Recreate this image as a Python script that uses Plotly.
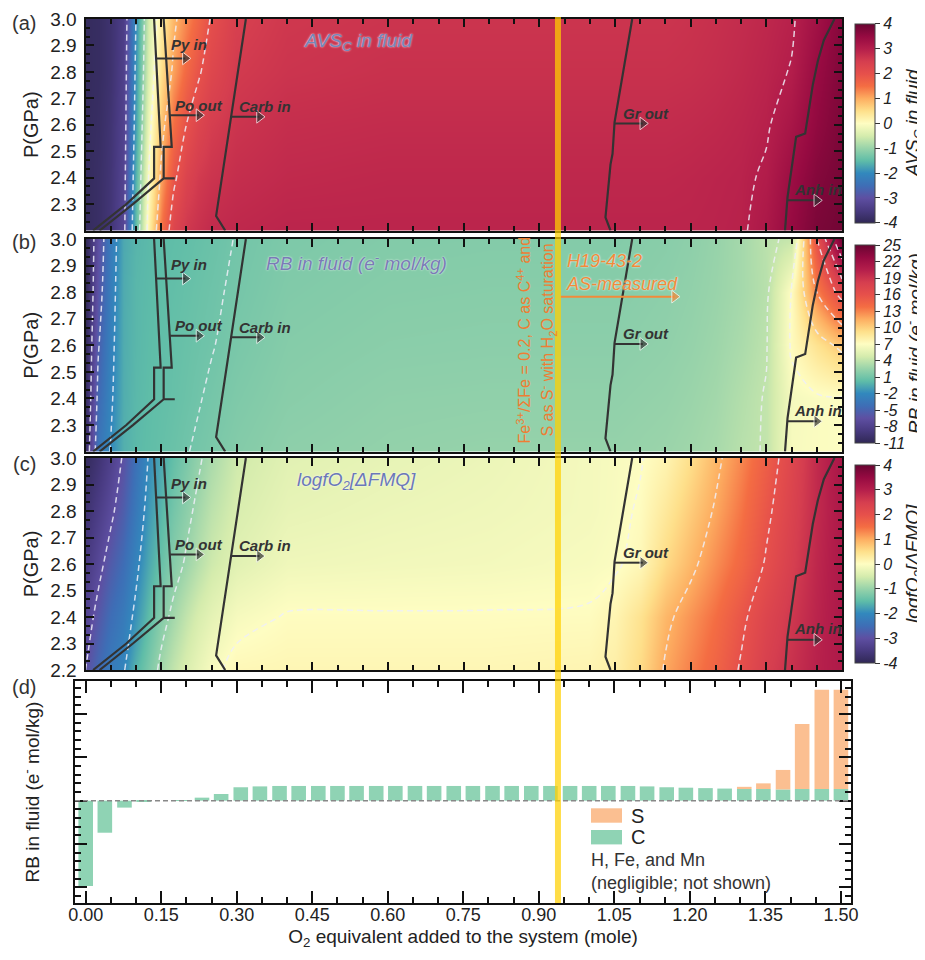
import plotly.graph_objects as go

FONT = "Liberation Sans"

# ---------------- grid of the three maps ----------------
X_NODES = [0.0, 0.025, 0.05, 0.075, 0.1, 0.125, 0.15, 0.175, 0.2, 0.225, 0.25, 0.3,
           0.4, 0.6, 0.8, 1.0, 1.05, 1.1, 1.15, 1.2, 1.25, 1.3, 1.35, 1.4, 1.45, 1.5]
P_NODES = [2.2, 2.4, 2.6, 2.8, 3.0]

AVS_C = [
    [-3.9, -3.8, -3.6, -3.2, -1.5, 0.2, 1.5, 2.3, 2.6, 2.7, 2.8, 2.85, 2.9, 2.9, 2.9, 2.9, 2.9, 2.9, 2.9, 2.9, 2.92, 2.95, 3.15, 3.5, 3.8, 3.9],
    [-3.9, -3.8, -3.62, -3.25, -1.65, 0.0, 1.1, 1.9, 2.35, 2.55, 2.65, 2.75, 2.82, 2.85, 2.85, 2.85, 2.85, 2.85, 2.85, 2.87, 2.9, 2.93, 3.05, 3.4, 3.7, 3.85],
    [-3.9, -3.83, -3.65, -3.3, -1.8, -0.2, 0.8, 1.5, 2.0, 2.3, 2.5, 2.65, 2.75, 2.78, 2.78, 2.78, 2.78, 2.78, 2.78, 2.8, 2.83, 2.88, 2.96, 3.2, 3.55, 3.8],
    [-3.9, -3.85, -3.7, -3.35, -1.9, -0.4, 0.5, 1.1, 1.6, 1.95, 2.25, 2.55, 2.65, 2.7, 2.7, 2.7, 2.7, 2.7, 2.7, 2.72, 2.76, 2.82, 2.9, 3.02, 3.45, 3.75],
    [-3.9, -3.85, -3.7, -3.4, -2.0, -0.5, 0.3, 0.9, 1.3, 1.65, 2.05, 2.45, 2.6, 2.65, 2.65, 2.65, 2.65, 2.65, 2.65, 2.68, 2.72, 2.78, 2.85, 2.95, 3.3, 3.7],
]
RB_FLUID = [
    [-10.0, -3.5, -1.9, -0.3, 0.1, 0.3, 0.5, 0.7, 0.95, 1.15, 1.35, 1.7, 2.1, 2.3, 2.4, 2.4, 2.4, 2.5, 2.6, 2.8, 3.1, 3.7, 4.1, 6.6, 6.8, 6.9],
    [-10.5, -4.5, -2.3, -0.4, 0.05, 0.25, 0.4, 0.55, 0.75, 0.95, 1.15, 1.5, 1.9, 2.15, 2.2, 2.2, 2.2, 2.3, 2.4, 2.6, 2.9, 3.5, 4.1, 6.5, 6.8, 6.9],
    [-10.8, -5.2, -2.6, -0.45, 0.0, 0.2, 0.35, 0.5, 0.65, 0.8, 0.95, 1.3, 1.75, 1.95, 2.0, 2.0, 2.0, 2.1, 2.2, 2.4, 2.7, 3.2, 3.9, 7.2, 9.0, 10.5],
    [-11.0, -6.0, -2.9, -0.5, 0.0, 0.15, 0.3, 0.4, 0.55, 0.7, 0.85, 1.15, 1.6, 1.8, 1.85, 1.85, 1.85, 1.95, 2.05, 2.25, 2.55, 3.0, 3.7, 7.1, 13.0, 17.0],
    [-11.0, -6.5, -3.2, -0.6, -0.1, 0.1, 0.2, 0.3, 0.4, 0.55, 0.7, 1.05, 1.45, 1.65, 1.7, 1.7, 1.7, 1.8, 1.9, 2.1, 2.45, 3.0, 3.8, 4.2, 16.0, 25.0],
]
LOGFO2 = [
    [-3.0, -2.55, -2.25, -2.05, -1.6, -1.25, -0.9, -0.65, -0.42, -0.25, -0.08, 0.1, 0.12, 0.12, 0.12, 0.15, 0.25, 0.55, 1.05, 1.35, 1.65, 2.05, 2.45, 2.7, 2.95, 3.1],
    [-3.25, -2.85, -2.5, -2.25, -1.9, -1.5, -1.15, -0.9, -0.65, -0.45, -0.3, -0.1, 0.02, 0.02, 0.02, 0.03, 0.15, 0.45, 0.9, 1.2, 1.5, 1.9, 2.3, 2.6, 2.9, 3.15],
    [-3.5, -3.15, -2.8, -2.5, -2.1, -1.7, -1.4, -1.15, -0.95, -0.75, -0.55, -0.35, -0.18, -0.15, -0.13, -0.08, -0.04, 0.1, 0.55, 0.9, 1.25, 1.6, 2.05, 2.45, 2.85, 3.15],
    [-3.7, -3.4, -3.1, -2.75, -2.3, -1.85, -1.55, -1.3, -1.1, -0.9, -0.7, -0.45, -0.28, -0.22, -0.18, -0.12, -0.07, 0.03, 0.35, 0.7, 1.05, 1.45, 1.9, 2.35, 2.8, 3.15],
    [-3.9, -3.65, -3.35, -2.95, -2.45, -1.98, -1.7, -1.45, -1.25, -1.05, -0.85, -0.55, -0.35, -0.28, -0.22, -0.12, -0.08, -0.02, 0.15, 0.5, 0.9, 1.3, 1.75, 2.25, 2.8, 3.2],
]

# ---------------- phase boundaries (same in the three maps) ----------------
PY_IN_X = [0.136, 0.149, 0.136, 0.136, 0.081, 0.015]
PY_IN_P = [3.0, 2.516, 2.516, 2.397, 2.3, 2.2]
PO_OUT_X = [0.155, 0.171, 0.155, 0.155, 0.177, 0.155, 0.094, 0.028]
PO_OUT_P = [3.0, 2.516, 2.516, 2.397, 2.397, 2.397, 2.3, 2.2]
CARB_IN_X = [0.318, 0.263, 0.259, 0.277]
CARB_IN_P = [3.0, 2.29, 2.255, 2.2]
GR_OUT_X = [1.084, 1.049, 1.045, 1.041, 1.031, 1.041]
GR_OUT_P = [3.0, 2.609, 2.49, 2.45, 2.25, 2.2]
ANH_IN_X = [1.485, 1.464, 1.452, 1.442, 1.427, 1.409, 1.392, 1.387]
ANH_IN_P = [3.0, 2.92, 2.84, 2.75, 2.567, 2.554, 2.326, 2.2]

BOUNDARY_LABELS = ["Py in", "Po out", "Carb in", "Gr out", "Anh in"]
ARROW_X0 = [0.141, 0.168, 0.288, 1.048, 1.392]
ARROW_X1 = [0.198, 0.225, 0.345, 1.105, 1.450]
ARROW_P = [2.851, 2.636, 2.630, 2.605, 2.314]
LABEL_X = [0.166, 0.174, 0.301, 1.062, 1.400]
LABEL_P = [2.905, 2.674, 2.668, 2.643, 2.355]

MEASURED_X = 0.938          # H19-43-2 as-measured sample
SAMPLE_ARROW_X = [0.942, 1.168]
SAMPLE_ARROW_P = [2.783, 2.783]

# ---------------- panel d bars ----------------
BAR_X = [0.000, 0.038, 0.077, 0.115, 0.154, 0.192, 0.231, 0.269, 0.308, 0.346,
         0.385, 0.423, 0.462, 0.500, 0.538, 0.577, 0.615, 0.654, 0.692, 0.731,
         0.769, 0.808, 0.846, 0.885, 0.923, 0.962, 1.000, 1.038, 1.077, 1.115,
         1.154, 1.192, 1.231, 1.269, 1.308, 1.346, 1.385, 1.423, 1.462, 1.500]
RB_C = [-1.97, -0.74, -0.16, -0.02, 0.0, 0.01, 0.07, 0.155, 0.31, 0.33,
        0.34, 0.34, 0.34, 0.34, 0.34, 0.34, 0.34, 0.34, 0.34, 0.34,
        0.34, 0.34, 0.34, 0.34, 0.34, 0.34, 0.34, 0.34, 0.34, 0.33,
        0.31, 0.30, 0.29, 0.28, 0.27, 0.27, 0.26, 0.27, 0.27, 0.27]
RB_S = [0, 0, 0, 0, 0, 0, 0, 0, 0, 0,
        0, 0, 0, 0, 0, 0, 0, 0, 0, 0,
        0, 0, 0, 0, 0, 0, 0, 0, 0, 0,
        0, 0, 0, 0, 0.05, 0.13, 0.45, 1.50, 2.29, 2.29]

X_TICKS = [0.0, 0.15, 0.3, 0.45, 0.6, 0.75, 0.9, 1.05, 1.2, 1.35, 1.5]
P_TICKS_AB = [2.3, 2.4, 2.5, 2.6, 2.7, 2.8, 2.9, 3.0]
P_TICKS_C = [2.2, 2.3, 2.4, 2.5, 2.6, 2.7, 2.8, 2.9, 3.0]
CB_A_VALS = [-4, -3, -2, -1, 0, 1, 2, 3, 4]
CB_A_TEXT = ["-4", "-3", "-2", "-1", "0", "1", "2", "3", "4"]
CB_B_VALS = [-11, -8, -5, -2, 1, 4, 7, 10, 13, 16, 19, 22, 25]
CB_B_TEXT = ["-11", "-8", "-5", "-2", "1", "4", "7", "10", "13", "16", "19", "22", "25"]

COLORSCALE = [
    [0.0, "#302855"], [0.0625, "#483a80"], [0.125, "#5e4fa2"], [0.1875, "#3e6eb6"],
    [0.25, "#3288bd"], [0.3125, "#5fbda8"], [0.375, "#98d3aa"], [0.4375, "#d5ecad"],
    [0.5, "#fefdc2"], [0.5625, "#fee08b"], [0.625, "#fdae61"], [0.6875, "#f46d43"],
    [0.75, "#e6504b"], [0.8125, "#d53e4f"], [0.875, "#b41e4b"], [0.9375, "#960a41"],
    [1.0, "#690532"],
]

# page offset of the figure inside the html body (default 8px body margin)
OFF = 8
FIG_W, FIG_H = 925 - OFF, 960 - OFF


def px(X):
    return (X - OFF) / FIG_W


def py(Y):
    return 1 - (Y - OFF) / FIG_H


fig = go.Figure()

panels = [
    dict(z=AVS_C, zmin=-4, zmax=4, lv=(-3, 3, 1), vals=CB_A_VALS, txt=CB_A_TEXT,
         title="<i>AVS<sub>C</sub> in fluid</i>", cb=(24, 222.7),
         ptitle="<i>AVS<sub>C</sub> in fluid</i>", ptx=0.43, pcol="#7287bb"),
    dict(z=RB_FLUID, zmin=-11, zmax=25, lv=(-8, 22, 3), vals=CB_B_VALS, txt=CB_B_TEXT,
         title="<i>RB in fluid (e<sup>-</sup> mol/kg)</i>", cb=(245, 443),
         ptitle="<i>RB in fluid (e<sup>-</sup> mol/kg)</i>", ptx=0.353, pcol="#7a7bb6"),
    dict(z=LOGFO2, zmin=-4, zmax=4, lv=(-3, 2, 1), vals=CB_A_VALS, txt=CB_A_TEXT,
         title="<i>logfO<sub>2</sub>[ΔFMQ]</i>", cb=(465, 663),
         ptitle="<i>logfO<sub>2</sub>[ΔFMQ]</i>", ptx=0.416, pcol="#6b78b8"),
]
boundaries = [(PY_IN_X, PY_IN_P), (PO_OUT_X, PO_OUT_P), (CARB_IN_X, CARB_IN_P),
              (GR_OUT_X, GR_OUT_P), (ANH_IN_X, ANH_IN_P)]

for k, sp in enumerate(panels, start=1):
    xa = "x" if k == 1 else f"x{k}"
    ya = "y" if k == 1 else f"y{k}"
    cb_top, cb_bot = sp["cb"]
    fig.add_trace(go.Heatmap(
        x=X_NODES, y=P_NODES, z=sp["z"], zmin=sp["zmin"], zmax=sp["zmax"],
        colorscale=COLORSCALE, zsmooth="best", xaxis=xa, yaxis=ya, hoverinfo="skip",
        colorbar=dict(x=px(855), xanchor="left", xpad=0, ypad=0, thickness=20,
                      len=(cb_bot - cb_top) / FIG_H, y=py((cb_top + cb_bot) / 2),
                      yanchor="middle", outlinewidth=1,
                      outlinecolor="#444", tickvals=sp["vals"], ticktext=sp["txt"],
                      ticks="outside", ticklen=5, tickcolor="#333",
                      tickfont=dict(family=FONT, size=16, color="#222", style="italic"))))
    fig.add_trace(go.Contour(
        x=X_NODES, y=P_NODES, z=sp["z"], showscale=False, xaxis=xa, yaxis=ya,
        hoverinfo="skip",
        contours=dict(coloring="none", start=sp["lv"][0], end=sp["lv"][1], size=sp["lv"][2]),
        line=dict(color="rgba(238,238,248,0.85)", width=1.5, dash="6px,4px")))
    for bx, bp in boundaries:
        fig.add_trace(go.Scatter(x=bx, y=bp, mode="lines", xaxis=xa, yaxis=ya,
                                 line=dict(color="#333333", width=2.2),
                                 showlegend=False, hoverinfo="skip"))
    for lab, x0, x1, p, lx, lp in zip(BOUNDARY_LABELS, ARROW_X0, ARROW_X1, ARROW_P, LABEL_X, LABEL_P):
        fig.add_trace(go.Scatter(x=[x0, x1], y=[p, p], mode="lines+markers", xaxis=xa, yaxis=ya,
                                 line=dict(color="#333333", width=2),
                                 marker=dict(symbol="triangle-right", size=[0, 11], color="#333333"),
                                 showlegend=False, hoverinfo="skip"))
        fig.add_annotation(x=lx, y=lp, xref=xa, yref=ya, text=f"<b><i>{lab}</i></b>",
                           showarrow=False, xanchor="left", yanchor="middle",
                           font=dict(family=FONT, size=15, color="#333333"))
    fig.add_annotation(x=sp["ptx"], y=2.913, xref=xa, yref=ya, text=sp["ptitle"],
                       showarrow=False, xanchor="left", yanchor="middle",
                       font=dict(family=FONT, size=19, color=sp["pcol"],
                                 shadow="0 0 2px #ffffff"))
    # colour-bar title
    fig.add_annotation(x=px(914), y=py((cb_top + cb_bot) / 2), xref="paper", yref="paper",
                       text=sp["title"], textangle=-90, showarrow=False,
                       xanchor="center", yanchor="middle",
                       font=dict(family=FONT, size=19, color="#222"))

# ---------------- panel d ----------------
C_COLOR = "#8fd3b4"
S_COLOR = "#fbbf91"
fig.add_trace(go.Bar(x=BAR_X, y=RB_C, name="C", marker=dict(color=C_COLOR, line=dict(width=0)),
                     width=0.029, xaxis="x4", yaxis="y4", hoverinfo="skip"))
fig.add_trace(go.Bar(x=BAR_X, y=RB_S, name="S", marker=dict(color=S_COLOR, line=dict(width=0)),
                     width=0.029, xaxis="x4", yaxis="y4", hoverinfo="skip"))
for tr in fig.data:
    tr.showlegend = False

fig.add_shape(type="line", xref="x4 domain", yref="y4", x0=0, x1=1, y0=0, y1=0,
              line=dict(color="#888888", width=1.5, dash="5px,3px"), layer="above")

# legend key of panel d
for col, lab, ytop in [(S_COLOR, "S", 808.3), (C_COLOR, "C", 830.0)]:
    fig.add_shape(type="rect", xref="paper", yref="paper", x0=px(591), x1=px(622),
                  y0=py(ytop + 14.4), y1=py(ytop),
                  fillcolor=col, line=dict(width=0), layer="above")
    fig.add_annotation(x=px(629), y=py(ytop + 7.2), xref="paper", yref="paper",
                       text=lab, showarrow=False, xanchor="left", yanchor="middle",
                       font=dict(family=FONT, size=20, color="#222"))
fig.add_annotation(x=px(589), y=py(871), xref="paper", yref="paper",
                   text="H, Fe, and Mn<br>(negligible; not shown)", align="left",
                   showarrow=False, xanchor="left", yanchor="middle",
                   font=dict(family=FONT, size=18, color="#333333"))

# measured composition line through all panels
fig.add_shape(type="line", xref="x4", yref="paper", x0=MEASURED_X, x1=MEASURED_X,
              y0=py(903), y1=py(17),
              line=dict(color="rgba(255,208,0,0.72)", width=6), layer="above")

# orange notes in panel b
ORANGE = "#ef7d33"
fig.add_annotation(x=0.8685, y=2.62, xref="x2", yref="y2", textangle=-90, showarrow=False,
                   text="Fe<sup>3+</sup>/ΣFe = 0.2, C as C<sup>4+</sup> and",
                   font=dict(family=FONT, size=16, color=ORANGE))
fig.add_annotation(x=0.9163, y=2.62, xref="x2", yref="y2", textangle=-90, showarrow=False,
                   text="S as S<sup>-</sup> with H<sub>2</sub>O saturation",
                   font=dict(family=FONT, size=16, color=ORANGE))
fig.add_annotation(x=0.948, y=2.875, xref="x2", yref="y2",
                   text="<i>H19-43-2<br>AS-measured</i>", align="left",
                   showarrow=False, xanchor="left", yanchor="middle",
                   font=dict(family=FONT, size=18, color="#f28a3a", shadow="0 0 2px #ffffff"))
fig.add_trace(go.Scatter(x=SAMPLE_ARROW_X, y=SAMPLE_ARROW_P, mode="lines+markers",
                         xaxis="x2", yaxis="y2", line=dict(color="#f28a3a", width=2),
                         marker=dict(symbol="triangle-right", size=[0, 11], color="#f28a3a"),
                         showlegend=False, hoverinfo="skip"))

# panel letters
for lab, ypix in zip(["(a)", "(b)", "(c)", "(d)"], [23, 242, 464, 687]):
    fig.add_annotation(x=px(24), y=py(ypix), xref="paper", yref="paper", text=lab,
                       showarrow=False, xanchor="center", yanchor="middle",
                       font=dict(family=FONT, size=20, color="#333333"))

# ---------------- axes ----------------
ydoms = [[py(230.5), py(19)], [py(451.6), py(239)], [py(670), py(458)]]
common_x = dict(range=[0, 1.5], showline=True, linewidth=2, linecolor="#111", mirror="allticks",
                ticks="inside", ticklen=8, tickwidth=1.5, tickcolor="#111",
                tickvals=X_TICKS, showticklabels=False, showgrid=False, zeroline=False,
                minor=dict(ticks="inside", ticklen=5, dtick=0.05, tick0=0, tickcolor="#111"),
                domain=[px(85.5), px(842)], automargin=False)
layout = dict(width=FIG_W, height=FIG_H, margin=dict(l=0, r=0, t=0, b=0, autoexpand=False),
              template="none", paper_bgcolor="white", plot_bgcolor="white",
              barmode="relative", showlegend=False,
              font=dict(family=FONT, color="#222"))
for k in range(1, 4):
    xk = "xaxis" if k == 1 else f"xaxis{k}"
    yk = "yaxis" if k == 1 else f"yaxis{k}"
    ya = "y" if k == 1 else f"y{k}"
    xa = "x" if k == 1 else f"x{k}"
    layout[xk] = dict(common_x, anchor=ya)
    layout[yk] = dict(range=[2.2, 3.0], domain=ydoms[k - 1], anchor=xa, showline=True,
                      linewidth=2, linecolor="#111", mirror="allticks", ticks="inside",
                      ticklen=8, tickwidth=1.5, tickcolor="#111",
                      tickvals=P_TICKS_C if k == 3 else P_TICKS_AB, tickformat=".1f",
                      tickfont=dict(family=FONT, size=19, color="#222"),
                      ticklabelstandoff=3,
                      showgrid=False, zeroline=False, automargin=False,
                      minor=dict(ticks="inside", ticklen=4, dtick=0.1 / 3, tick0=2.2, tickcolor="#111"),
                      title=dict(text="P(GPa)", standoff=6, font=dict(family=FONT, size=20, color="#222")))

layout["xaxis4"] = dict(range=[-0.02125, 1.52], domain=[px(75), px(851)], anchor="y4",
                        showline=True, linewidth=2, linecolor="#111", mirror="allticks",
                        ticks="inside", ticklen=12, tickwidth=1.5, tickcolor="#111",
                        tickvals=X_TICKS, tickformat=".2f", showgrid=False, zeroline=False,
                        tickfont=dict(family=FONT, size=18, color="#222"),
                        ticklabelstandoff=-6,
                        minor=dict(ticks="inside", ticklen=6, dtick=0.05, tick0=0, tickcolor="#111"),
                        automargin=False,
                        title=dict(text="O<sub>2</sub> equivalent added to the system (mole)", standoff=6,
                                   font=dict(family=FONT, size=19, color="#222")))
layout["yaxis4"] = dict(range=[-2.363, 2.764], domain=[py(903), py(681)], anchor="x4",
                        showline=True, linewidth=2, linecolor="#111", mirror="allticks",
                        ticks="inside", ticklen=12, tickwidth=1.5, tickcolor="#111",
                        dtick=1, tick0=0, showticklabels=False, showgrid=False, zeroline=False,
                        minor=dict(ticks="inside", ticklen=6, dtick=0.2, tick0=0, tickcolor="#111"),
                        automargin=False,
                        title=dict(text="RB in fluid (e<sup>-</sup> mol/kg)", standoff=28,
                                   font=dict(family=FONT, size=19, color="#222")))
fig.update_layout(**layout)

fig.write_html("out.html")
